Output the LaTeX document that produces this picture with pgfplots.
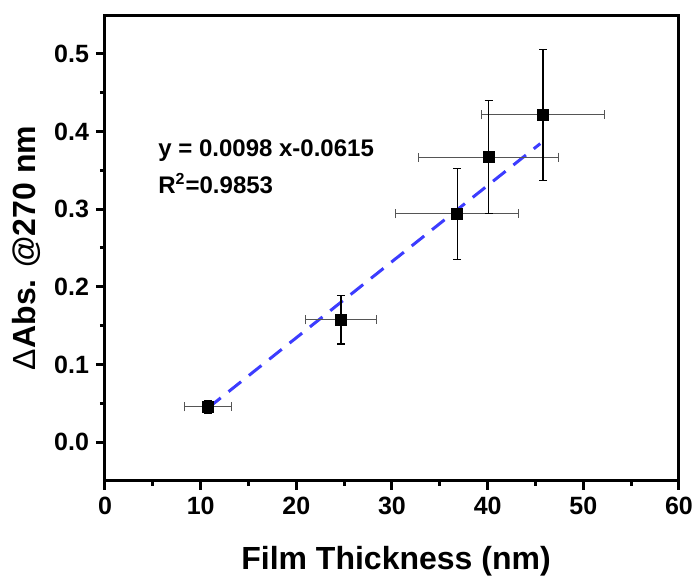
\documentclass[border=0pt]{standalone}
\usepackage{fontspec}
\setmainfont{Liberation Sans}
\usepackage{pgfplots}
\usepackage{pgfplotstable}
\pgfplotsset{compat=1.18}
\definecolor{fitblue}{RGB}{60,60,255}
\definecolor{errgray}{RGB}{85,85,85}

\pgfplotstableread{
x     ex    y       ey
10.79 2.47  0.0456  0.0085
24.66 3.72  0.1575  0.0310
36.81 6.45  0.2940  0.0588
40.09 7.30  0.3670  0.0730
45.79 6.40  0.4217  0.0843
}\thickdata

\begin{document}
\begin{tikzpicture}
\begin{axis}[
    scale only axis,
    width=287pt, height=233pt,
    xmin=0, xmax=60,
    ymin=-0.05, ymax=0.55,
    xtick={0,10,20,30,40,50,60},
    ytick={0,0.1,0.2,0.3,0.4,0.5},
    minor xtick={5,15,25,35,45,55},
    minor ytick={0.05,0.15,0.25,0.35,0.45},
    xtick pos=bottom,
    ytick pos=left,
    tick align=outside,
    major tick length=4.5pt,
    minor tick length=2.5pt,
    axis line style={line width=1.5pt},
    every major tick/.append style={black, line width=1.5pt},
    every minor tick/.append style={black, line width=1.5pt},
    yticklabel style={/pgf/number format/.cd, fixed, fixed zerofill, precision=1},
    /pgf/number format/assume math mode=true,
    ticklabel style={font=\bfseries\fontsize{12.5}{15}\selectfont},
    xlabel={Film Thickness (nm)},
    ylabel={{\mdseries Δ}Abs. @270 nm},
    xlabel style={font=\bfseries\fontsize{16}{19}\selectfont,
        at={(axis description cs:0.507,-0.189)}, anchor=base},
    ylabel style={font=\bfseries\fontsize{16}{19}\selectfont,
        at={(axis description cs:-0.136,0.5)}, anchor=center},
    clip=false,
]
% linear fit y = 0.0098 x - 0.0615
\addplot[fitblue, line width=1.5pt, dash pattern=on 8pt off 5pt] coordinates {
    (10.79,0.0442) (45.5,0.3844)
};
% horizontal error bars (grey)
\addplot[only marks, mark=square*, mark size=2.8pt, mark options={black, fill=black},
    error bars/.cd, x dir=both, x explicit,
    error bar style={errgray, line width=0.6pt},
    error mark options={rotate=90, errgray, mark size=2.3pt, line width=0.6pt}]
    table[x=x, y=y, x error=ex] {\thickdata};
% vertical error bars (black)
\addplot[only marks, mark=square*, mark size=2.8pt, mark options={black, fill=black},
    error bars/.cd, y dir=both, y explicit,
    error bar style={black, line width=0.6pt},
    error mark options={rotate=90, black, mark size=2pt, line width=0.6pt}]
    table[x=x, y=y, y error=ey] {\thickdata};

\node[anchor=base west, inner sep=0pt, font=\bfseries\fontsize{12}{14}\selectfont]
    at (axis cs:5.54,0.368) {y = 0.0098 x-0.0615};
\node[anchor=base west, inner sep=0pt, font=\bfseries\fontsize{12}{14}\selectfont]
    at (axis cs:5.54,0.320) {R\textsuperscript{2}=0.9853};
\end{axis}
\pgfresetboundingbox
\path[use as bounding box] (-52.5pt,-48pt) rectangle (296.5pt,240.5pt);
\end{tikzpicture}
\end{document}
